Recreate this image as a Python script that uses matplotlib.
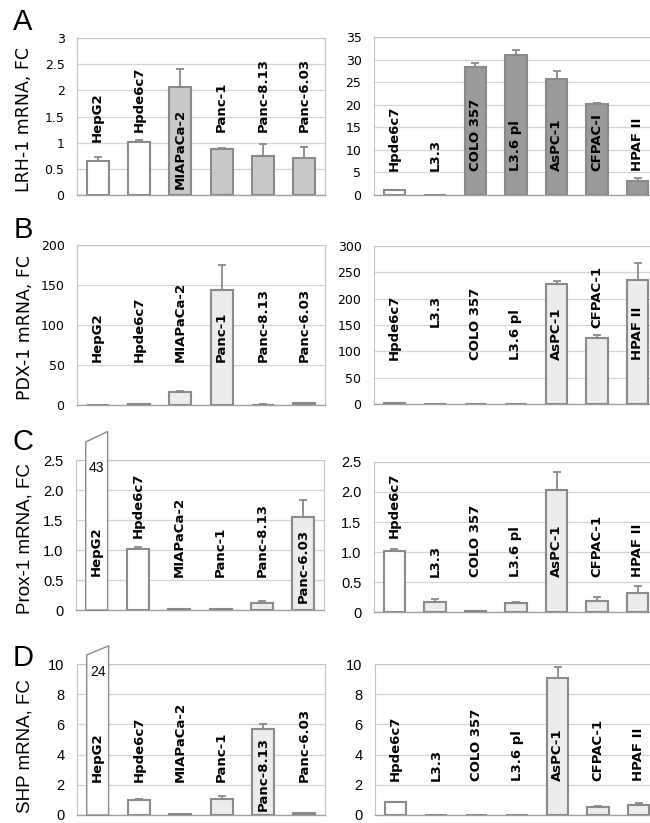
import matplotlib.pyplot as plt
import numpy as np
from matplotlib.patches import Polygon
import matplotlib.transforms as mtransforms

# cell lines
left_cells = ['HepG2', 'Hpde6c7', 'MIAPaCa-2', 'Panc-1', 'Panc-8.13', 'Panc-6.03']
right_cells = ['Hpde6c7', 'L3.3', 'COLO 357', 'L3.6 pl', 'AsPC-1', 'CFPAC-1', 'HPAF II']
right_cells_a = ['Hpde6c7', 'L3.3', 'COLO 357', 'L3.6 pl', 'AsPC-1', 'CFPAC-I', 'HPAF II']

# A: LRH-1
lrh1_left = [0.65, 1.01, 2.06, 0.87, 0.74, 0.71]
lrh1_left_err = [0.07, 0.04, 0.34, 0.03, 0.23, 0.20]
lrh1_right = [1.0, 0.0, 28.4, 31.0, 25.6, 20.1, 3.2]
lrh1_right_err = [0.0, 0.0, 0.8, 1.2, 1.8, 0.3, 0.5]

# B: PDX-1
pdx1_left = [0.0, 1.0, 16.0, 144.0, 0.5, 2.0]
pdx1_left_err = [0.0, 0.3, 2.0, 31.0, 0.2, 1.0]
pdx1_right = [1.0, 0.0, 0.0, 0.0, 228.0, 125.0, 235.0]
pdx1_right_err = [0.0, 0.0, 0.0, 0.0, 5.0, 6.0, 33.0]

# C: Prox-1
prox1_left = [43.0, 1.01, 0.02, 0.02, 0.12, 1.55]
prox1_left_err = [0.0, 0.04, 0.0, 0.0, 0.03, 0.28]
prox1_right = [1.01, 0.17, 0.02, 0.15, 2.04, 0.19, 0.31]
prox1_right_err = [0.04, 0.05, 0.0, 0.01, 0.30, 0.06, 0.12]

# D: SHP
shp_left = [24.0, 1.0, 0.05, 1.05, 5.7, 0.1]
shp_left_err = [0.0, 0.05, 0.0, 0.2, 0.35, 0.05]
shp_right = [0.85, 0.02, 0.02, 0.02, 9.1, 0.55, 0.65]
shp_right_err = [0.0, 0.0, 0.0, 0.0, 0.7, 0.05, 0.15]

W, H = 650, 823
fig = plt.figure(figsize=(6.5, 8.23), dpi=100)

WHITE, MID, DARK, LIGHT = '#ffffff', '#c8c8c8', '#9a9a9a', '#ececec'
EDGE = '#8a8a8a'


def rect(x, w, ytop, ybot):
    return [x / W, 1 - ybot / H, w / W, (ybot - ytop) / H]


def panel(r, cells, vals, errs, fills, ymax, step, ticklabels, label_y,
          tickfont, brk=None):
    ax = fig.add_axes(r)
    x = np.arange(len(cells))
    bw = 0.53
    for i, v in enumerate(vals):
        if v > ymax:
            # broken bar running off the top of the axis
            lt, rt = brk
            poly = Polygon([[x[i] - bw / 2, 0], [x[i] + bw / 2, 0],
                            [x[i] + bw / 2, ymax * rt], [x[i] - bw / 2, ymax * lt]],
                           closed=True, facecolor=fills[i], edgecolor=EDGE,
                           lw=1.0, clip_on=False, zorder=3)
            ax.add_patch(poly)
            ax.text(x[i], ymax * 0.995, '%d' % v, ha='center', va='top',
                    fontsize=10, family='Liberation Sans', zorder=5)
        else:
            ax.bar(x[i], v, width=bw, color=fills[i], edgecolor=EDGE,
                   linewidth=1.5, zorder=3)
    e = np.array(errs)
    m = e > 0
    v = np.array(vals)
    ax.errorbar(x[m], v[m], yerr=[np.zeros(m.sum()), e[m]], fmt='none',
                ecolor=EDGE, elinewidth=1.3, capsize=3, capthick=1.3, zorder=2.5)
    trans = mtransforms.blended_transform_factory(ax.transData, ax.transAxes)
    for i, c in enumerate(cells):
        ax.text(x[i], label_y[i], c, rotation=90, ha='center', va='bottom',
                fontsize=9.5, fontweight='bold', family='DejaVu Sans',
                transform=trans, zorder=6)
    ax.set_xlim(-0.5, len(cells) - 0.5)
    ax.set_ylim(0, ymax)
    ticks = np.arange(0, ymax + step / 2, step)
    ax.set_yticks(ticks)
    ax.set_yticklabels(ticklabels, family=tickfont[0], fontsize=tickfont[1])
    ax.set_xticks([])
    ax.tick_params(axis='y', length=0, pad=9)
    ax.yaxis.grid(True, color='#d4d4d4', lw=0.9)
    ax.set_axisbelow(True)
    for s in ['top', 'right', 'left']:
        ax.spines[s].set_color('#c4c4c4')
    ax.spines['bottom'].set_color('#a0a0a0')
    ax.spines['bottom'].set_linewidth(1.0)
    return ax


dv = ('DejaVu Sans', 9)
ls = ('Liberation Sans', 10.5)

# A
panel(rect(77, 248, 38, 195), left_cells, lrh1_left, lrh1_left_err,
      [WHITE, WHITE, MID, MID, MID, MID], 3, 0.5,
      ['0', '0.5', '1', '1.5', '2', '2.5', '3'],
      [0.34, 0.40, 0.04, 0.40, 0.40, 0.40], dv)
panel(rect(374, 284, 37, 195), right_cells_a, lrh1_right, lrh1_right_err,
      [WHITE] + [DARK] * 6, 35, 5,
      [str(t) for t in range(0, 36, 5)],
      [0.15] * 7, dv)
# B
panel(rect(77, 248, 245, 405), left_cells, pdx1_left, pdx1_left_err,
      [WHITE, WHITE, LIGHT, LIGHT, LIGHT, LIGHT], 200, 50,
      [str(t) for t in range(0, 201, 50)],
      [0.27] * 6, dv)
panel(rect(374, 284, 246, 404), right_cells, pdx1_right, pdx1_right_err,
      [WHITE] + [LIGHT] * 6, 300, 50,
      [str(t) for t in range(0, 301, 50)],
      [0.28, 0.49, 0.28, 0.28, 0.28, 0.48, 0.28], dv)
# C
panel(rect(76, 248, 460, 610), left_cells, prox1_left, prox1_left_err,
      [WHITE, WHITE, LIGHT, LIGHT, LIGHT, LIGHT], 2.5, 0.5,
      ['0', '0.5', '1.0', '1.5', '2.0', '2.5'],
      [0.23, 0.48, 0.22, 0.22, 0.22, 0.045], ls, brk=(1.12, 1.19))
panel(rect(374, 284, 462, 612), right_cells, prox1_right, prox1_right_err,
      [WHITE] + [LIGHT] * 6, 2.5, 0.5,
      ['0', '0.5', '1.0', '1.5', '2.0', '2.5'],
      [0.49] + [0.235] * 6, ls)
# D
panel(rect(77, 248, 664, 815), left_cells, shp_left, shp_left_err,
      [WHITE, WHITE, LIGHT, LIGHT, LIGHT, LIGHT], 10, 2,
      [str(t) for t in range(0, 11, 2)],
      [0.22, 0.22, 0.22, 0.22, 0.026, 0.22], ls, brk=(1.06, 1.12))
panel(rect(375, 284, 664, 815), right_cells, shp_right, shp_right_err,
      [WHITE] + [LIGHT] * 6, 10, 2,
      [str(t) for t in range(0, 11, 2)],
      [0.226] * 7, ls)

# y labels
ylabels = [('LRH-1 mRNA, FC', 24, 120, 'DejaVu Sans', 12.5),
           ('PDX-1 mRNA, FC', 25, 328, 'DejaVu Sans', 12.5),
           ('Prox-1 mRNA, FC', 25, 539, 'Liberation Sans', 13.5),
           ('SHP mRNA, FC', 25, 746, 'Liberation Sans', 13.5)]
for t, xp, yp, fam, fs in ylabels:
    fig.text(xp / W, 1 - yp / H, t, rotation=90, ha='center', va='center',
             family=fam, fontsize=fs)

# panel letters
for t, yp in zip('ABCD', [22, 230, 442, 658]):
    fig.text(23 / W, 1 - yp / H, t, ha='center', va='center',
             family='Liberation Sans', fontsize=21)

fig.savefig('out.png', dpi=100)
